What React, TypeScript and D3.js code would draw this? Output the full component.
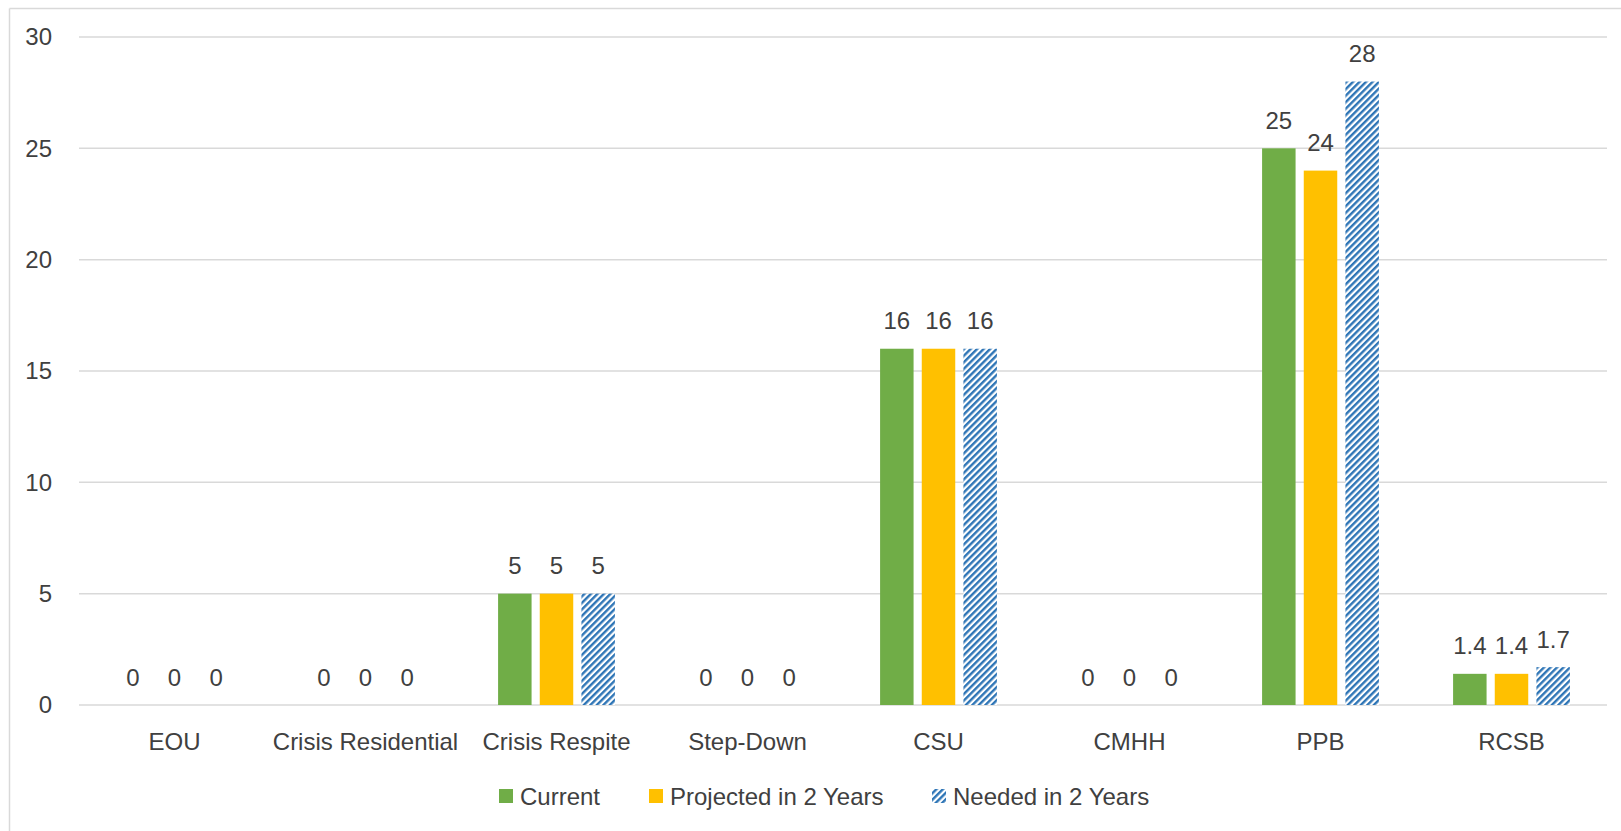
import React from "react";
import * as d3 from "d3";

const categories = ["EOU", "Crisis Residential", "Crisis Respite", "Step-Down", "CSU", "CMHH", "PPB", "RCSB"];
const seriesNames = ["Current", "Projected in 2 Years", "Needed in 2 Years"];
const currentValues = [0, 0, 5, 0, 16, 0, 25, 1.4];
const projectedValues = [0, 0, 5, 0, 16, 0, 24, 1.4];
const neededValues = [0, 0, 5, 0, 16, 0, 28, 1.7];
const yTickValues = [0, 5, 10, 15, 20, 25, 30];

const W = 1621;
const H = 831;
const FONT = "'Liberation Sans', Arial, sans-serif";
const TEXT = "#404040";
const GRID = "#d9d9d9";
const GREEN = "#70AD47";
const YELLOW = "#FFC000";
const BLUE = "#2E75B6";

export default function App() {
  const plotLeft = 79;
  const plotRight = 1607;
  const plotTop = 37;
  const plotBottom = 705;

  const x = d3.scaleBand<string>().domain(categories).range([plotLeft, plotRight]).padding(0);
  const inner = d3
    .scaleBand<string>()
    .domain(seriesNames)
    .range([0, x.bandwidth()])
    .paddingInner(0.1965)
    .paddingOuter(0.89);
  const y = d3.scaleLinear().domain([0, 30]).range([plotBottom, plotTop]);

  const series = [
    { name: seriesNames[0], values: currentValues, fill: GREEN },
    { name: seriesNames[1], values: projectedValues, fill: YELLOW },
    { name: seriesNames[2], values: neededValues, fill: "url(#hatch)" },
  ];

  const fmt = (v: number) => (Number.isInteger(v) ? String(v) : v.toFixed(1));

  const legendTextX = [520, 670, 953];
  const legendItems = [
    { name: seriesNames[0], fill: GREEN, tx: legendTextX[0] },
    { name: seriesNames[1], fill: YELLOW, tx: legendTextX[1] },
    { name: seriesNames[2], fill: "url(#hatch)", tx: legendTextX[2] },
  ];

  return (
    <svg
      width={W}
      height={H}
      style={{ position: "absolute", left: 0, top: 0, display: "block", background: "#fff" }}
    >
      <defs>
        <pattern id="hatch" width={4.6} height={4.6} patternUnits="userSpaceOnUse" patternTransform="rotate(45)">
          <rect width={4.6} height={4.6} fill="#fff" />
          <rect width={2.4} height={4.6} fill={BLUE} />
        </pattern>
      </defs>

      {/* outer border */}
      <line x1={9.5} x2={9.5} y1={8.5} y2={H} stroke={GRID} strokeWidth={1.5} />
      <line x1={9.5} x2={W} y1={8.5} y2={8.5} stroke={GRID} strokeWidth={1.5} />

      {/* gridlines */}
      {yTickValues.map((t) => (
        <line key={"g" + t} x1={plotLeft} x2={plotRight} y1={y(t)} y2={y(t)} stroke={GRID} strokeWidth={1.5} />
      ))}

      {/* y tick labels */}
      {yTickValues.map((t) => (
        <text
          key={"t" + t}
          x={52}
          y={y(t)}
          dy="0.35em"
          textAnchor="end"
          fontFamily={FONT}
          fontSize={24}
          fill={TEXT}
        >
          {t}
        </text>
      ))}

      {/* bars */}
      {categories.map((c, i) => (
        <g key={c} transform={`translate(${x(c)},0)`}>
          {series.map((s) => {
            const v = s.values[i];
            const bx = inner(s.name)!;
            const bw = inner.bandwidth();
            return (
              <g key={s.name}>
                {v > 0 && <rect x={bx} y={y(v)} width={bw} height={y(0) - y(v)} fill={s.fill} />}
                <text
                  x={bx + bw / 2}
                  y={y(v) - 19.5}
                  textAnchor="middle"
                  fontFamily={FONT}
                  fontSize={24}
                  fill={TEXT}
                >
                  {fmt(v)}
                </text>
              </g>
            );
          })}
        </g>
      ))}

      {/* category labels */}
      {categories.map((c) => (
        <text
          key={"c" + c}
          x={x(c)! + x.bandwidth() / 2}
          y={750}
          textAnchor="middle"
          fontFamily={FONT}
          fontSize={24}
          fill={TEXT}
        >
          {c}
        </text>
      ))}

      {/* legend */}
      {legendItems.map((l) => (
        <g key={l.name}>
          <rect x={l.tx - 21} y={789} width={14} height={14} fill={l.fill} />
          <text x={l.tx} y={805} fontFamily={FONT} fontSize={24} fill={TEXT}>
            {l.name}
          </text>
        </g>
      ))}
    </svg>
  );
}
